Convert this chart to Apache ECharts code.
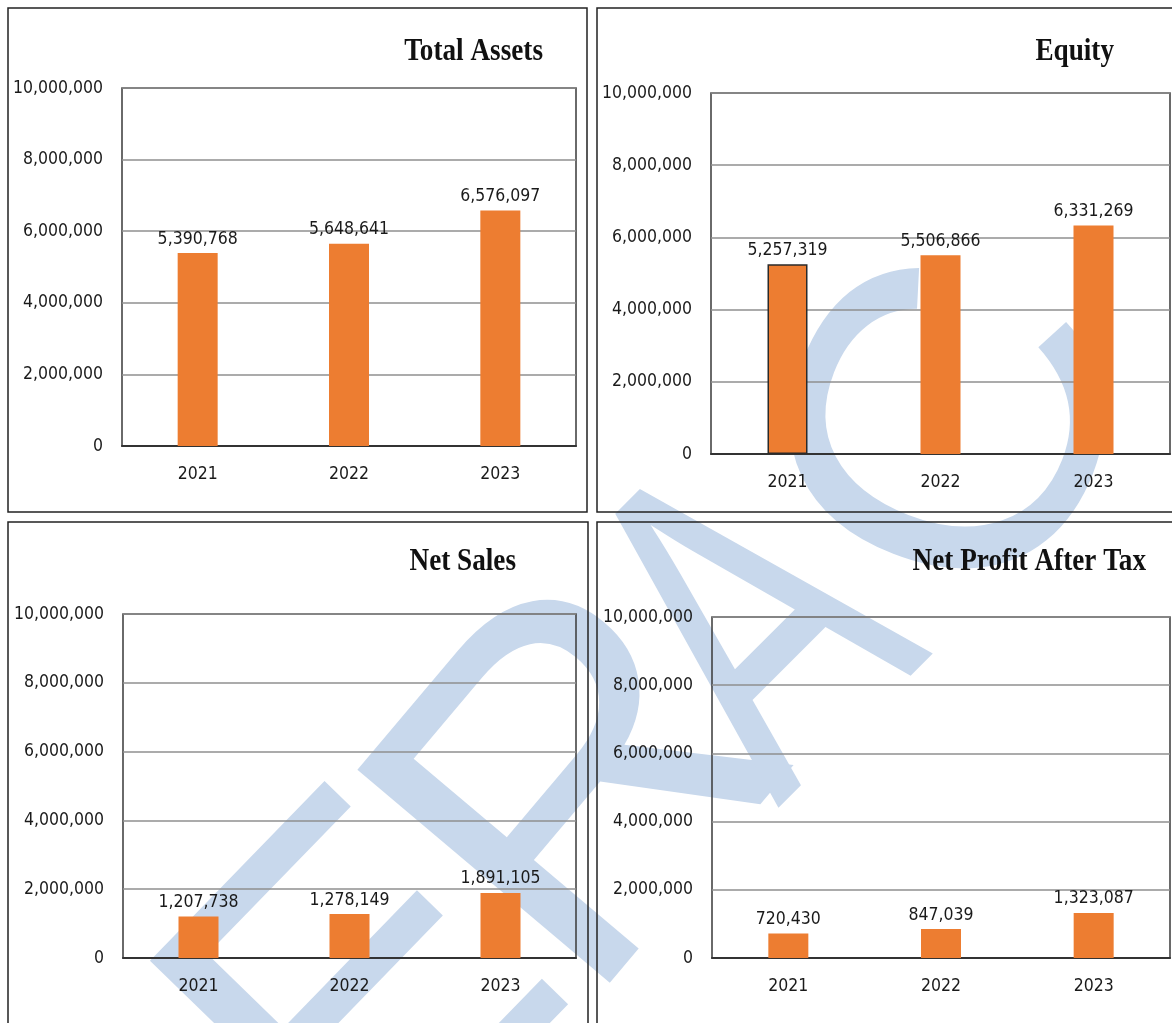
<!DOCTYPE html>
<html>
<head>
<meta charset="utf-8">
<script src="https://cdn.jsdelivr.net/npm/echarts@6/dist/echarts.min.js"></script>
<style>
html,body{margin:0;padding:0;background:#fff;}
#chart{width:1172px;height:1023px;}
</style>
</head>
<body>
<div id="chart"></div>
<script>
// ---- data ----
const years = ['2021', '2022', '2023'];
const totalAssets = [5390768, 5648641, 6576097];
const equity = [5257319, 5506866, 6331269];
const netSales = [1207738, 1278149, 1891105];
const netProfit = [720430, 847039, 1323087];
const titles = ['Total Assets', 'Equity', 'Net Sales', 'Net Profit After Tax'];
const yMin = 0, yMax = 10000000, yStep = 2000000;
const watermarkLetters = ['E', 'R', 'A', 'C'];

// ---- layout ----
const panels = [
  {data: totalAssets, grid: {left: 122, top: 88, width: 454, height: 358}, title: [543, 52], box: [8, 8, 579, 504]},
  {data: equity, grid: {left: 711, top: 93, width: 459, height: 361}, title: [1114, 52], box: [597, 8, 600, 504], outline: [0]},
  {data: netSales, grid: {left: 123, top: 614, width: 453, height: 344}, title: [516, 562], box: [8, 522, 580, 540]},
  {data: netProfit, grid: {left: 712, top: 617, width: 458, height: 341}, title: [1146, 562], box: [597, 522, 600, 540]}
];
// watermark glyph placement: [x, y, rotation, fontSize, scaleX]
const watermarkStyle = [
  [376, 1012, 0.80, 480, 1],
  [595, 795, 0.87, 480, 1],
  [764, 639, 0.785, 470, 0.7],
  [972, 438, 1.2, 440, 1]
];

const numFont = '"DejaVu Sans Condensed", "Liberation Sans Narrow", sans-serif';
const numSize = 17.5;
const fmt = v => Number(v).toLocaleString('en-US');

const grids = [], xAxes = [], yAxes = [], series = [], graphics = [];

watermarkLetters.forEach((ch, k) => {
  const w = watermarkStyle[k];
  graphics.push({
    type: 'text', x: w[0], y: w[1], rotation: w[2], scaleX: w[4], z: -10, silent: true,
    style: {text: ch, fontSize: w[3], fontFamily: '"Liberation Sans", Arial, sans-serif', fill: '#C8D8EC', align: 'center', verticalAlign: 'middle'}
  });
});

panels.forEach((p, i) => {
  grids.push(Object.assign({show: true, borderColor: '#3a3a3a', borderWidth: 1.5, backgroundColor: 'transparent', containLabel: false, outerBoundsMode: 'none'}, p.grid));
  xAxes.push({
    type: 'category', gridIndex: i, data: years,
    axisLine: {show: true, lineStyle: {color: '#333', width: 2}},
    axisTick: {show: false},
    axisLabel: {color: '#1a1a1a', fontSize: numSize, fontFamily: numFont, margin: 19}
  });
  yAxes.push({
    type: 'value', gridIndex: i, min: yMin, max: yMax, interval: yStep,
    axisLine: {show: false}, axisTick: {show: false},
    splitLine: {lineStyle: {color: '#8f8f8f', width: 1.5}},
    axisLabel: {color: '#1a1a1a', fontSize: numSize, fontFamily: numFont, margin: 19, formatter: fmt}
  });
  series.push({
    type: 'bar', xAxisIndex: i, yAxisIndex: i, barWidth: 40,
    data: p.data.map((v, j) => {
      const item = {value: v};
      if (p.outline && p.outline.includes(j)) item.itemStyle = {borderColor: '#2a2a2a', borderWidth: 1.5};
      return item;
    }),
    itemStyle: {color: '#ED7D31'},
    label: {show: true, position: 'top', distance: 5, color: '#1a1a1a', fontSize: numSize, fontFamily: numFont, formatter: o => fmt(o.value)}
  });
  graphics.push({
    type: 'rect', z: 100, silent: true,
    shape: {x: p.box[0], y: p.box[1], width: p.box[2], height: p.box[3]},
    style: {fill: 'none', stroke: '#222', lineWidth: 1.5}
  });
  graphics.push({
    type: 'text', x: p.title[0], y: p.title[1], scaleX: 0.85, z: 100,
    style: {text: titles[i], fontSize: 32, fontWeight: 'bold', fontFamily: '"Liberation Serif", "Times New Roman", serif', fill: '#111', align: 'right', verticalAlign: 'middle'}
  });
});

const chart = echarts.init(document.getElementById('chart'), null, {renderer: 'canvas'});
chart.setOption({
  backgroundColor: '#fff',
  animation: false,
  grid: grids, xAxis: xAxes, yAxis: yAxes, series: series,
  graphic: graphics
});
</script>
</body>
</html>
